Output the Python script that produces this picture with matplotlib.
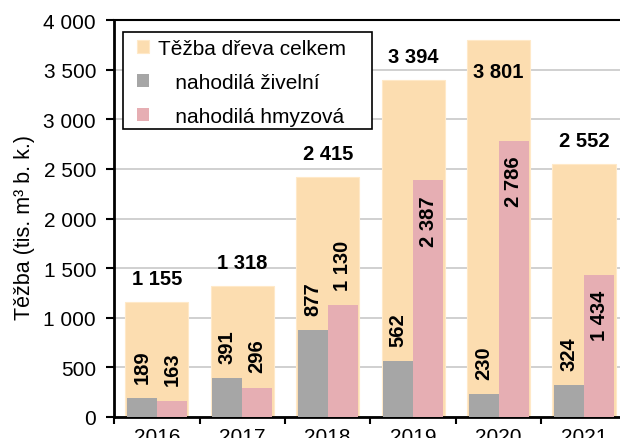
import numpy as np
import matplotlib.pyplot as plt
from matplotlib.patches import Rectangle
from matplotlib.ticker import FuncFormatter

# těžba dřeva v ČR (tis. m3 b. k.)
roky = ['2016', '2017', '2018', '2019', '2020', '2021']
celkem = [1155, 1318, 2415, 3394, 3801, 2552]
zivelni = [189, 391, 877, 562, 230, 324]
hmyzova = [163, 296, 1130, 2387, 2786, 1434]

plt.rcParams['font.family'] = ['Liberation Sans', 'DejaVu Sans']

def fmt(v):
    return f'{v:,}'.replace(',', ' ')

fig = plt.figure(figsize=(6.2, 4.39), dpi=100)
ax = fig.add_axes([0.184, 0.048, 0.827, 0.904])

x = np.arange(len(roky))
ax.bar(x, celkem, width=0.74, color='#FCDDB0', edgecolor='#FFE9C8', linewidth=0.8,
       label='Těžba dřeva celkem', zorder=2)
ax.bar(x - 0.175, zivelni, width=0.35, color='#A6A6A6',
       label='   nahodilá živelní', zorder=3)
ax.bar(x + 0.175, hmyzova, width=0.35, color='#E6AEB3',
       label='   nahodilá hmyzová', zorder=3)

# popisky celkem
for i, v in enumerate(celkem):
    if v > 3600:
        ax.annotate(fmt(v), (x[i], v), xytext=(0, -23), textcoords='offset points',
                    ha='center', va='center', fontsize=14.5, fontweight='bold')
    else:
        ax.annotate(fmt(v), (x[i], v), xytext=(0, 17), textcoords='offset points',
                    ha='center', va='center', fontsize=14.5, fontweight='bold')

# popisky nahodilé těžby (svisle)
for xs, vals in ((x - 0.175, zivelni), (x + 0.175, hmyzova)):
    for xi, v in zip(xs, vals):
        if v > 1300:
            ax.annotate(fmt(v), (xi, v), xytext=(0, -11), textcoords='offset points',
                        ha='center', va='top', rotation=90, fontsize=14.5, fontweight='bold')
        else:
            ax.annotate(fmt(v), (xi, v), xytext=(0, 11), textcoords='offset points',
                        ha='center', va='bottom', rotation=90, fontsize=14.5, fontweight='bold')

ax.set_ylim(0, 4000)
ax.set_xlim(-0.5, len(roky) - 0.5)
ax.set_yticks(np.arange(0, 4001, 500))
ax.yaxis.set_major_formatter(FuncFormatter(lambda v, p: fmt(int(v))))
ax.yaxis.grid(True, color='#C8C8C8', linewidth=1.2, zorder=0)
ax.set_axisbelow(True)

ax.set_xticks(np.arange(-0.5, len(roky), 1))
ax.set_xticklabels([])
ax.set_xticks(x, minor=True)
ax.set_xticklabels(roky, minor=True)
ax.tick_params(axis='x', which='minor', length=0, labelsize=15, pad=7)
ax.tick_params(axis='x', which='major', direction='out', length=5, width=1.5)
ax.tick_params(axis='y', direction='out', length=6, width=1.5, labelsize=15, pad=7)

for s in ('left', 'bottom'):
    ax.spines[s].set_linewidth(2)
ax.spines['top'].set_linewidth(1.5)
ax.spines['right'].set_visible(False)

ax.set_ylabel('Těžba (tis. m³ b. k.)', fontsize=15.5, labelpad=6, y=0.48)

# rámeček legendy (bílý, přes mřížku)
ax.add_patch(Rectangle((0.0175, 0.725), 0.4855, 0.245, transform=ax.transAxes,
                       facecolor='white', edgecolor='black', linewidth=1.2, zorder=5))
leg = ax.legend(loc='upper left', bbox_to_anchor=(0.045, 0.952), fontsize=15,
                frameon=False, borderaxespad=0, borderpad=0,
                handlelength=0.55, handleheight=0.55, handletextpad=0.45,
                labelspacing=0.72)
leg.set_zorder(6)

plt.savefig('out.png', dpi=100)
